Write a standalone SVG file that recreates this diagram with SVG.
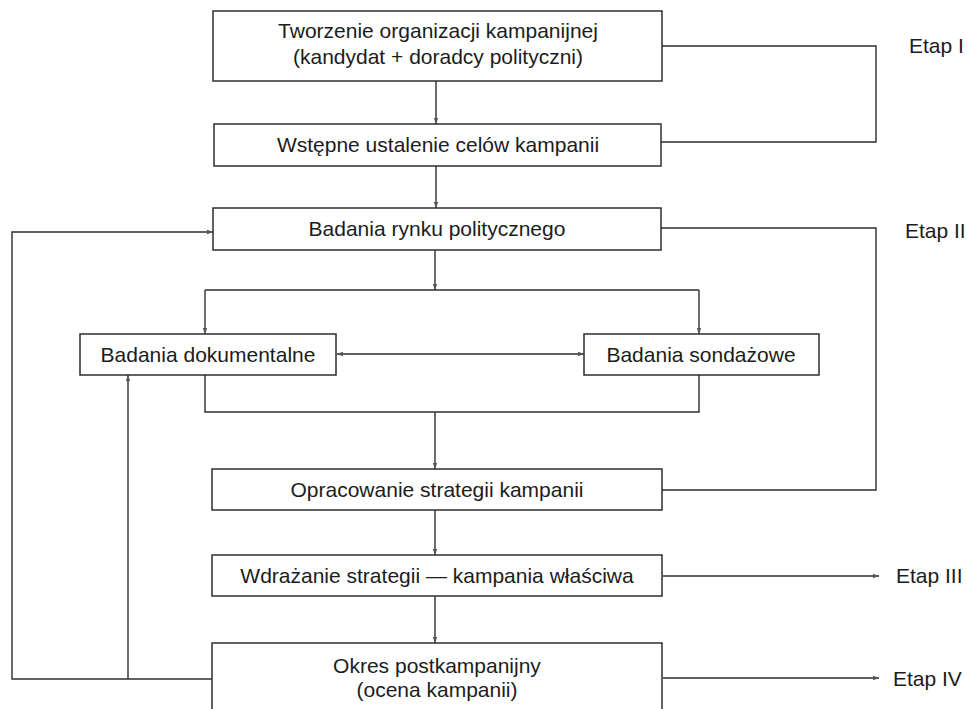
<svg xmlns="http://www.w3.org/2000/svg" width="967" height="709" viewBox="0 0 967 709">
  <style>
    .box { fill: #ffffff; stroke: #2e2e2e; stroke-width: 1.5; }
    .wire { fill: none; stroke: #2e2e2e; stroke-width: 1.4; }
    .lbl { font-family: "Liberation Sans", Arial, sans-serif; font-size: 21px; fill: #1c1c1c; text-anchor: middle; }
    .stage { font-family: "Liberation Sans", Arial, sans-serif; font-size: 21px; fill: #1c1c1c; }
  </style>
  <defs>
    <marker id="tip" viewBox="0 0 6 6" refX="6" refY="3" markerWidth="6" markerHeight="6" markerUnits="userSpaceOnUse" orient="auto-start-reverse">
      <path d="M0,0.8 L6,3 L0,5.2 Z" fill="#555555"/>
    </marker>
  </defs>
  <rect width="967" height="709" fill="#ffffff"/>

  <!-- connectors -->
  <g id="connectors">
    <path class="wire" d="M436,81 V124" marker-end="url(#tip)"/>
    <path class="wire" d="M436,166 V208" marker-end="url(#tip)"/>
    <path class="wire" d="M662,46 H876 V142 H661"/>
    <path class="wire" d="M661,228 H876 V490 H662"/>
    <path class="wire" d="M435,250 V290" marker-end="url(#tip)"/>
    <path class="wire" d="M205,290 H699"/>
    <path class="wire" d="M205,290 V334" marker-end="url(#tip)"/>
    <path class="wire" d="M699,290 V334" marker-end="url(#tip)"/>
    <path class="wire" d="M337,354 H584" marker-start="url(#tip)" marker-end="url(#tip)"/>
    <path class="wire" d="M205,375 V412 H699 V375"/>
    <path class="wire" d="M435,412 V469" marker-end="url(#tip)"/>
    <path class="wire" d="M435,510 V555" marker-end="url(#tip)"/>
    <path class="wire" d="M435,596 V643" marker-end="url(#tip)"/>
    <path class="wire" d="M212,679 H12 V232 H213" marker-end="url(#tip)"/>
    <path class="wire" d="M128,679 V375" marker-end="url(#tip)"/>
    <path class="wire" d="M663,576 H879" marker-end="url(#tip)"/>
    <path class="wire" d="M663,678 H879" marker-end="url(#tip)"/>
  </g>

  <g id="n-organizacja">
    <rect class="box" x="213" y="11" width="449" height="70"/>
    <text class="lbl" x="438" y="38">Tworzenie organizacji kampanijnej</text>
    <text class="lbl" x="438" y="64">(kandydat + doradcy polityczni)</text>
  </g>
  <g id="n-cele">
    <rect class="box" x="214" y="124" width="447" height="42"/>
    <text class="lbl" x="438" y="152">Wstępne ustalenie celów kampanii</text>
  </g>
  <g id="n-rynek">
    <rect class="box" x="213" y="208" width="448" height="42"/>
    <text class="lbl" x="437" y="236">Badania rynku politycznego</text>
  </g>
  <g id="n-dokumentalne">
    <rect class="box" x="80" y="334" width="256" height="41"/>
    <text class="lbl" x="208" y="362">Badania dokumentalne</text>
  </g>
  <g id="n-sondazowe">
    <rect class="box" x="584" y="334" width="235" height="41"/>
    <text class="lbl" x="701" y="362">Badania sondażowe</text>
  </g>
  <g id="n-strategia">
    <rect class="box" x="212" y="469" width="450" height="41"/>
    <text class="lbl" x="437" y="497">Opracowanie strategii kampanii</text>
  </g>
  <g id="n-wdrazanie">
    <rect class="box" x="212" y="555" width="450" height="41"/>
    <text class="lbl" x="437" y="583">Wdrażanie strategii — kampania właściwa</text>
  </g>
  <g id="n-postkampania">
    <rect class="box" x="212" y="643" width="450" height="72"/>
    <text class="lbl" x="437" y="673">Okres postkampanijny</text>
    <text class="lbl" x="437" y="697">(ocena kampanii)</text>
  </g>

  <g id="stages">
    <text class="stage" x="909" y="53">Etap I</text>
    <text class="stage" x="905" y="238">Etap II</text>
    <text class="stage" x="896" y="583">Etap III</text>
    <text class="stage" x="893" y="686">Etap IV</text>
  </g>
</svg>
